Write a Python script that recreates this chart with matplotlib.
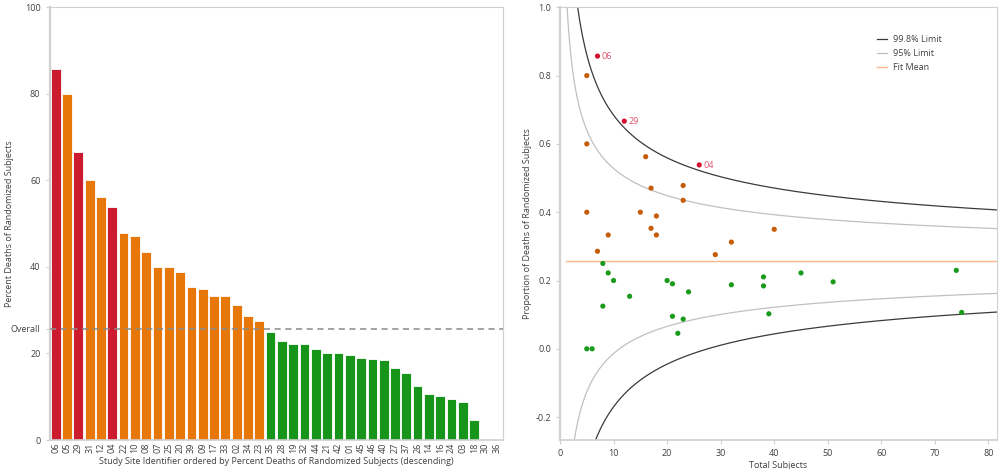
import numpy as np
import matplotlib
matplotlib.use("Agg")
import matplotlib.pyplot as plt

plt.rcParams['font.family'] = ['Open Sans', 'DejaVu Sans']

# site data: subjects randomized and deaths per site
sites = ['06', '05', '29', '31', '12', '04', '22', '10', '08', '07',
         '25', '20', '39', '09', '17', '33', '02', '34', '23', '35',
         '28', '19', '32', '44', '21', '42', '01', '45', '46', '40',
         '27', '37', '26', '14', '16', '24', '03', '18', '30', '36']
subjects = [7, 5, 12, 5, 16, 26, 23, 17, 23, 5,
            15, 18, 17, 40, 9, 18, 32, 7, 29, 8,
            74, 9, 45, 38, 10, 20, 51, 21, 32, 38,
            24, 13, 8, 75, 39, 21, 23, 22, 5, 6]
deaths = [6, 4, 8, 3, 9, 14, 11, 8, 10, 2,
          6, 7, 6, 14, 3, 6, 10, 2, 8, 2,
          17, 2, 10, 8, 2, 4, 10, 4, 6, 7,
          4, 2, 1, 8, 4, 2, 2, 1, 0, 0]
labelled = ['06', '29', '04']

n = np.array(subjects, dtype=float)
d = np.array(deaths, dtype=float)
prop = d / n
p0 = d.sum() / n.sum()

Z998 = 3.09
Z95 = 1.96

RED = '#cc1a2e'
ORANGE = '#e8770a'
GREEN = '#17951a'
RED_PT = '#d4102e'
ORANGE_PT = '#c45c08'
GREEN_PT = '#1a9a1a'
SPINE = '#d0d0d0'
TXT = '#404040'

upper998 = p0 + Z998 * np.sqrt(p0 * (1 - p0) / n)
is_red = prop > upper998
is_orange = (~is_red) & (prop > p0)

bar_cols = [RED if r else (ORANGE if o else GREEN) for r, o in zip(is_red, is_orange)]
pt_cols = [RED_PT if r else (ORANGE_PT if o else GREEN_PT) for r, o in zip(is_red, is_orange)]

fig = plt.figure(figsize=(9.99, 4.69), dpi=100)
ax1 = fig.add_axes([49.5 / 999, 1 - 440 / 469, (503 - 49.5) / 999, (440 - 7.3) / 469])
ax2 = fig.add_axes([560 / 999, 1 - 440 / 469, (997 - 560) / 999, (440 - 7.3) / 469])

for ax in (ax1, ax2):
    for s in ax.spines.values():
        s.set_color(SPINE)
        s.set_linewidth(0.8)
    ax.spines['left'].set_linewidth(1.6)
    ax.spines['bottom'].set_linewidth(1.2)
    ax.tick_params(colors=SPINE, labelcolor=TXT, labelsize=6.5, length=3, width=0.8)

# --- left: bar chart ---
x = np.arange(len(sites))
ax1.bar(x, prop * 100, width=0.86, color=bar_cols, edgecolor='white', linewidth=0.6, zorder=2)
ax1.axhline(p0 * 100, color='#8a8a8a', lw=1.1, dashes=(4, 3), zorder=3)
ax1.set_xlim(-0.55, len(sites) - 0.45)
ax1.set_ylim(0, 100)
ax1.set_xticks(x)
ax1.set_xticklabels(sites, rotation=90)
ax1.tick_params(axis='x', length=0, pad=2)
ax1.set_yticks([0, 20, 40, 60, 80, 100, p0 * 100])
ax1.set_yticklabels(['0', '20', '40', '60', '80', '100', 'Overall'])
ax1.set_ylabel('Percent Deaths of Randomized Subjects', fontsize=6.5, color=TXT)
ax1.yaxis.set_label_coords(-0.078, 0.5)
ax1.set_xlabel('Study Site Identifier ordered by Percent Deaths of Randomized Subjects (descending)',
               fontsize=6.5, color=TXT, labelpad=3)

# --- right: funnel plot ---
nn = np.linspace(1, 82, 800)
se = np.sqrt(p0 * (1 - p0) / nn)
ax2.plot(nn, p0 + Z998 * se, color='#3a3a3a', lw=0.9, label='99.8% Limit')
ax2.plot(nn, p0 - Z998 * se, color='#3a3a3a', lw=0.9)
ax2.plot(nn, p0 + Z95 * se, color='#c0c0c0', lw=0.9, label='95% Limit')
ax2.plot(nn, p0 - Z95 * se, color='#c0c0c0', lw=0.9)
ax2.plot([1.1, 82], [p0, p0], color='#f9b585', lw=1.0, label='Fit Mean')
ax2.scatter(n, prop, s=14, c=pt_cols, zorder=3, linewidths=0)
for sid, xi, yi in zip(sites, n, prop):
    if sid in labelled:
        ax2.annotate(sid, (xi, yi), xytext=(3, -2), textcoords='offset points',
                     fontsize=6.5, color='#e0506a')
ax2.set_xlim(0, 81.6)
ax2.set_ylim(-0.267, 1.0)
ax2.set_xticks(np.arange(0, 81, 10))
ax2.set_yticks([-0.2, 0.0, 0.2, 0.4, 0.6, 0.8, 1.0])
ax2.set_yticklabels(['-0.2', '0.0', '0.2', '0.4', '0.6', '0.8', '1.0'])
ax2.set_ylabel('Proportion of Deaths of Randomized Subjects', fontsize=6.5, color=TXT)
ax2.yaxis.set_label_coords(-0.065, 0.5)
ax2.set_xlabel('Total Subjects', fontsize=6.5, color=TXT, labelpad=2)
leg = ax2.legend(loc='upper left', bbox_to_anchor=(0.725, 0.936), frameon=False, fontsize=6.5,
                 borderpad=0, borderaxespad=0,
                 handlelength=1.1, handletextpad=0.7, labelspacing=0.55)
for t in leg.get_texts():
    t.set_color(TXT)

fig.savefig('out.png', dpi=100)
